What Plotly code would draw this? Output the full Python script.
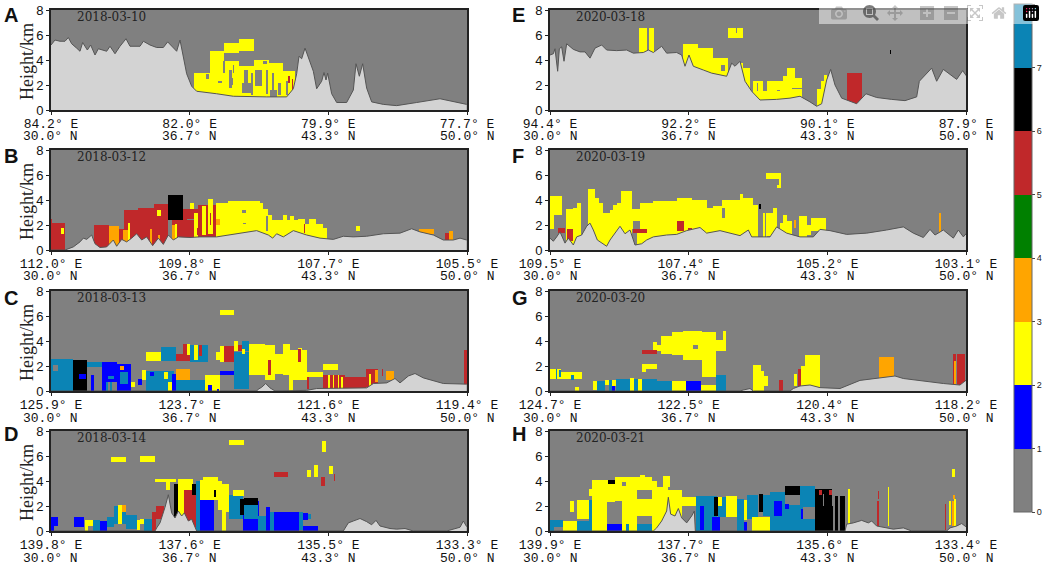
"""Vertical aerosol-type curtains along eight satellite tracks."""
import numpy as np
import plotly.graph_objects as go
from plotly.subplots import make_subplots

# class codes: 0 clear, 1 blue, 2 yellow, 3 orange, 4 green, 5 red, 6 black, 7 teal
CLASS_COLORS = ['#808080', '#0000ff', '#ffff00', '#ffa500',
                '#008000', '#c0282a', '#000000', '#0b84b5']
PANEL_LETTERS = ['A', 'B', 'C', 'D', 'E', 'F', 'G', 'H']
PANEL_DATES = ['2018-03-10', '2018-03-12', '2018-03-13', '2018-03-14',
               '2020-03-18', '2020-03-19', '2020-03-20', '2020-03-21']
LATS = ['30.0° N', '36.7° N', '43.3° N', '50.0° N']
LONS = [
    ['84.2° E', '82.0° E', '79.9° E', '77.7° E'],
    ['112.0° E', '109.8° E', '107.7° E', '105.5° E'],
    ['125.9° E', '123.7° E', '121.6° E', '119.4° E'],
    ['139.8° E', '137.6° E', '135.5° E', '133.3° E'],
    ['94.4° E', '92.2° E', '90.1° E', '87.9° E'],
    ['109.5° E', '107.4° E', '105.2° E', '103.1° E'],
    ['124.7° E', '122.5° E', '120.4° E', '118.2° E'],
    ['139.9° E', '137.7° E', '135.6° E', '133.4° E'],
]
TRACK_LEN = 1248
TRACK_TICKS = [0, 416, 832, 1248]

# terrain: along-track profile, height in km
terrain_a_x = [0, 12, 27, 42, 52, 62, 77, 87, 95, 109, 119, 132, 142, 167, 177, 192, 207, 225, 237, 267, 277, 297,
               317, 337, 350, 367, 377, 387, 395, 407, 422, 437, 497, 547, 647, 707, 727, 737, 744, 752, 762, 772,
               787, 797, 812, 819, 825, 830, 842, 857, 887, 907, 915, 925, 935, 947, 962, 997, 1037, 1097, 1167, 1247]
terrain_a_h = [5.2, 5.6, 5.5, 5.5, 5.8, 5.3, 4.95, 4.7, 5.4, 4.8, 5.2, 4.4, 4.9, 4.7, 5.1, 4.5, 5.1, 5.7, 5.1, 5.1,
               5.5, 5.2, 5.0, 5.0, 5.45, 4.95, 4.7, 5.6, 4.6, 2.9, 1.9, 1.5, 1.3, 1.1, 1.05, 1.05, 1.7, 2.9, 4.3,
               4.1, 4.95, 4.15, 3.1, 1.7, 2.3, 3.0, 2.4, 2.95, 1.3, 0.6, 0.6, 1.6, 3.7, 2.7, 3.7, 1.75, 0.65, 0.45,
               0.35, 0.6, 0.9, 0.45]
terrain_b_x = [0, 42, 67, 87, 97, 107, 122, 132, 147, 167, 187, 197, 212, 227, 242, 257, 272, 287, 305, 322, 337,
               352, 367, 382, 417, 447, 497, 547, 617, 652, 665, 677, 697, 727, 767, 807, 847, 877, 907, 947, 997,
               1047, 1082, 1107, 1147, 1177, 1207, 1227, 1247]
terrain_b_h = [0, 0, 0.25, 0.65, 0.95, 0.85, 1.2, 0.5, 0.2, 0.25, 0.8, 0.3, 0.85, 0.65, 0.95, 1.3, 0.8, 1.05, 0.35,
               0.95, 0.45, 1.2, 0.8, 1.05, 1.0, 1.05, 1.05, 1.25, 1.55, 1.2, 0.95, 1.3, 1.05, 1.55, 1.2, 0.95, 0.85,
               1.1, 1.05, 1.1, 1.3, 1.35, 1.7, 1.45, 1.2, 0.8, 0.8, 0.95, 0.8]
terrain_c_x = [0, 617, 622, 632, 644, 657, 672, 727, 767, 797, 847, 897, 947, 967, 1007, 1032, 1047, 1072, 1092,
               1117, 1147, 1177, 1247]
terrain_c_h = [0, 0, 0.15, 0.3, 0.6, 0.25, 0, 0, 0.05, 0.2, 0.2, 0.2, 0.25, 0.6, 0.65, 1.0, 0.65, 1.2, 1.4, 1.05,
               0.8, 0.6, 0.55]
terrain_d_x = [0, 312, 317, 327, 342, 352, 362, 372, 382, 392, 400, 412, 422, 437, 877, 892, 907, 927, 947, 962,
               975, 987, 1017, 1037, 1062, 1087, 1187, 1212, 1227, 1237, 1247]
terrain_d_h = [0, 0, 0.25, 0.65, 1.9, 2.9, 1.45, 1.05, 1.6, 1.2, 1.45, 0.8, 0.95, 0, 0, 0.65, 0.8, 1.0, 0.75, 0.5,
               0.85, 0.4, 0.2, 0.15, 0.2, 0, 0, 0.15, 0.3, 0.8, 0.35]
terrain_e_x = [0, 10, 15, 23, 28, 35, 42, 50, 70, 90, 105, 120, 135, 155, 170, 200, 230, 250, 280, 295, 310, 335,
               350, 380, 395, 405, 417, 430, 460, 485, 530, 545, 555, 570, 585, 605, 630, 680, 720, 750, 780, 800,
               815, 830, 842, 855, 875, 920, 948, 980, 1025, 1065, 1100, 1108, 1145, 1160, 1180, 1220, 1238, 1250]
terrain_e_h = [4.4, 4.5, 4.9, 3.1, 4.9, 5.05, 3.9, 5.3, 4.85, 4.65, 4.65, 4.15, 4.95, 5.2, 4.8, 4.75, 4.8, 4.55,
               4.6, 4.8, 4.6, 5.1, 4.55, 4.6, 4.4, 3.5, 4.4, 3.5, 3.2, 2.95, 2.7, 3.75, 3.5, 3.9, 2.3, 1.5, 0.8,
               0.85, 0.95, 1.1, 0.65, 0.3, 0.5, 2.4, 3.25, 2.0, 0.95, 0.5, 1.3, 1.0, 0.85, 0.75, 1.05, 2.3, 3.35,
               2.3, 3.25, 2.45, 3.15, 2.7]
terrain_f_x = [0, 10, 20, 30, 45, 55, 70, 80, 95, 110, 120, 130, 142, 155, 170, 180, 200, 210, 225, 240, 255, 275,
               290, 310, 350, 380, 410, 450, 470, 510, 570, 595, 605, 660, 680, 710, 750, 790, 810, 840, 890, 950,
               1010, 1060, 1090, 1120, 1140, 1155, 1180, 1210, 1225, 1240, 1250]
terrain_f_h = [0.95, 0.7, 1.05, 1.45, 0.55, 0.95, 0.4, 1.05, 1.2, 1.9, 2.15, 1.6, 0.8, 0.55, 0.3, 0.8, 1.6, 1.9,
               1.3, 1.6, 0.4, 0.5, 0.8, 1.05, 1.2, 1.25, 1.55, 1.8, 1.35, 1.55, 1.15, 1.6, 1.05, 1.05, 1.85, 1.35,
               1.05, 1.05, 1.65, 1.55, 1.25, 1.35, 1.6, 1.85, 1.35, 1.0, 1.65, 1.2, 1.6, 0.95, 1.6, 1.05, 1.35]
terrain_g_x = [0, 570, 580, 600, 610, 720, 730, 750, 780, 810, 870, 900, 930, 960, 990, 1035, 1060, 1130, 1180,
               1230, 1250]
terrain_g_h = [0, 0, 0.08, 0.2, 0, 0, 0.2, 0.4, 0.48, 0.27, 0.2, 0.55, 0.85, 0.95, 1.07, 1.2, 1.0, 0.75, 0.6, 0.48,
               0.9]
terrain_h_x = [0, 310, 320, 335, 350, 355, 362, 375, 385, 395, 410, 425, 433, 436, 885, 890, 910, 935, 955, 965,
               980, 1010, 1030, 1060, 1085, 1190, 1200, 1220, 1235, 1250]
terrain_h_h = [0, 0, 0.25, 0.8, 1.6, 2.7, 1.35, 1.2, 1.8, 1.05, 0.65, 1.2, 1.6, 0, 0, 0.55, 0.65, 0.85, 0.65, 0.8,
               0.4, 0.25, 0.15, 0.25, 0, 0, 0.25, 0.4, 0.6, 0.3]

# cloud and aerosol layers: first profile, last profile, base km, top km, class (later rows overwrite)
layers_a = [
    (430, 477, 0, 3.0, 2), (477, 520, 0, 4.7, 2), (520, 565, 0, 3.9, 2), (520, 565, 4.6, 5.4, 2),
    (565, 610, 4.7, 5.7, 2), (565, 610, 0, 3.5, 2), (610, 655, 0, 4.0, 2), (655, 697, 0, 3.8, 2),
    (697, 732, 0, 3.1, 2),
    (466, 474, 2.5, 2.9, 0), (500, 512, 2.2, 2.3, 0), (515, 522, 3.0, 3.9, 0), (533, 543, 1.8, 3.2, 0),
    (545, 550, 3.0, 3.6, 0), (572, 605, 1.4, 2.2, 0), (580, 590, 2.2, 3.2, 0), (612, 632, 1.9, 3.2, 0),
    (636, 647, 3.65, 3.95, 0), (658, 677, 0.9, 1.6, 0), (664, 670, 1.6, 3.0, 0), (682, 690, 1.2, 2.2, 0),
    (540, 546, 2.0, 2.6, 0), (600, 606, 1.2, 3.0, 0), (645, 650, 1.3, 3.2, 0), (705, 711, 1.2, 2.3, 0),
    (712, 716, 2.2, 2.7, 5), (722, 726, 1.6, 2.5, 5),
]
layers_b = [
    (0, 41, 0, 2.2, 5), (0, 4, 2.2, 2.5, 5), (30, 40, 1.3, 1.8, 2), (130, 175, 0, 2.0, 5), (175, 205, 0, 1.9, 3),
    (205, 219, 0, 1.7, 5), (219, 262, 0, 3.2, 5), (262, 309, 0, 3.35, 5), (309, 352, 0, 3.65, 5),
    (215, 230, 0, 1.6, 3), (230, 236, 0, 2.2, 2), (318, 330, 2.75, 3.2, 2), (297, 303, 0, 1.7, 3), (322, 328, 0, 1.2, 3),
    (352, 362, 0, 2.4, 0), (352, 395, 2.4, 4.4, 6), (362, 395, 0, 2.4, 5), (395, 442, 0, 3.25, 5),
    (442, 495, 0, 3.6, 5), (362, 372, 0, 2.0, 3), (372, 378, 0, 2.1, 2), (429, 442, 0, 3.0, 2), (452, 464, 1.2, 3.5, 2),
    (417, 429, 3.25, 3.75, 2), (472, 485, 1.3, 4.05, 2), (495, 507, 2.0, 2.5, 3), (407, 429, 2.4, 2.5, 0),
    (437, 441, 1.2, 1.8, 5), (477, 481, 2.0, 3.0, 5),
    (495, 532, 0, 3.75, 2), (495, 507, 2.0, 2.5, 3), (532, 627, 0, 3.9, 2), (627, 637, 0, 3.75, 2), (637, 652, 0, 3.3, 2),
    (652, 662, 0, 2.8, 2), (662, 697, 0, 2.4, 2), (697, 707, 0, 2.8, 2), (707, 717, 0, 2.4, 2),
    (717, 729, 0, 2.75, 2), (729, 740, 0, 2.4, 2), (740, 762, 0, 2.5, 2), (762, 775, 0, 2.1, 2),
    (775, 795, 0, 2.45, 2), (795, 817, 0, 2.1, 2), (817, 829, 0, 1.75, 2),
    (572, 585, 3.0, 3.2, 0), (575, 585, 2.1, 2.15, 0), (645, 650, 1.5, 2.7, 0), (760, 763, 1.4, 2.1, 5),
    (916, 928, 1.5, 1.9, 2), (1103, 1150, 1.3, 1.7, 3), (1183, 1195, 0.8, 1.4, 5), (1195, 1205, 0.8, 1.5, 3),
]
layers_c = [
    (0, 65, 0, 2.6, 7), (5, 20, 1.6, 2.1, 0), (65, 107, 0, 2.5, 6), (85, 105, 1.0, 1.4, 1), (107, 152, 1.9, 2.3, 7),
    (120, 130, 0, 1.3, 1), (152, 197, 0, 2.35, 1), (197, 240, 0, 2.15, 1), (208, 220, 1.7, 2.0, 3),
    (208, 232, 0.6, 1.5, 7), (168, 197, 0, 0.7, 0), (165, 170, 0, 0.7, 7), (178, 182, 0, 0.7, 7),
    (170, 190, 1.0, 1.2, 7), (240, 252, 0.3, 0.75, 2), (262, 273, 0.5, 1.0, 1), (273, 285, 0.9, 1.7, 2),
    (285, 370, 0, 1.6, 7), (297, 308, 1.2, 1.55, 1), (340, 352, 1.0, 1.5, 2), (352, 364, 0, 0.7, 2),
    (364, 375, 0, 1.4, 1), (285, 330, 2.4, 3.1, 2), (330, 375, 2.4, 3.5, 7), (375, 417, 2.4, 3.0, 5),
    (397, 407, 3.0, 3.8, 5), (407, 417, 2.9, 3.8, 2), (417, 472, 2.3, 3.7, 7), (430, 440, 2.5, 3.7, 2),
    (443, 452, 2.8, 3.7, 5), (375, 417, 0.9, 1.8, 3), (375, 462, 0, 0.9, 7), (462, 507, 0, 1.3, 2),
    (472, 482, 0, 0.5, 1), (497, 503, 0, 0.2, 1), (507, 550, 6.1, 6.5, 2), (495, 507, 2.5, 3.1, 2),
    (507, 520, 2.3, 3.6, 2), (520, 550, 2.3, 3.6, 5), (550, 562, 3.2, 4.0, 2), (562, 572, 3.2, 3.7, 5),
    (572, 595, 3.2, 4.0, 7), (550, 595, 0.2, 3.1, 7), (572, 582, 3.0, 3.4, 2), (507, 550, 1.3, 1.6, 1),
    (595, 642, 1.25, 3.75, 2), (642, 672, 0.9, 3.65, 2), (650, 660, 1.3, 2.5, 5), (672, 697, 1.4, 3.0, 2),
    (697, 717, 1.3, 3.75, 2), (715, 727, 0, 3.3, 2), (727, 740, 0.9, 3.3, 2), (740, 752, 0.9, 3.45, 2),
    (740, 750, 2.3, 3.4, 5), (752, 767, 0.9, 3.3, 2), (767, 817, 1.1, 1.5, 2), (767, 775, 0.2, 1.1, 5),
    (817, 860, 1.7, 2.2, 2), (817, 882, 0.2, 1.3, 5), (832, 838, 0.2, 1.3, 2), (845, 850, 0.2, 1.3, 2),
    (860, 865, 0.2, 1.3, 2), (870, 876, 0.2, 1.1, 2), (882, 945, 0.2, 1.1, 5), (945, 980, 0.3, 1.8, 5),
    (955, 960, 0.4, 1.4, 2), (972, 982, 0.7, 1.7, 3), (992, 997, 1.2, 1.8, 5), (1005, 1028, 0.9, 1.6, 3),
    (1240, 1247, 0.5, 3.3, 5),
]
layers_d = [
    (0, 22, 0.4, 1.1, 1), (0, 8, 0, 0.4, 1), (68, 100, 0.3, 1.1, 1), (102, 125, 0.4, 0.85, 2), (102, 112, 0, 0.4, 2),
    (125, 147, 0, 0.9, 7), (147, 168, 0, 0.8, 1), (168, 190, 0.3, 1.1, 7), (190, 225, 0.6, 2.0, 7),
    (200, 212, 0.6, 2.1, 2), (212, 225, 1.5, 2.1, 3), (225, 257, 0.2, 1.3, 7), (257, 268, 0.1, 0.85, 2),
    (268, 280, 0.6, 1.0, 2), (280, 302, 0, 1.0, 7), (302, 315, 0, 1.5, 5), (315, 340, 1.0, 2.0, 5),
    (180, 225, 5.5, 5.9, 2), (268, 312, 5.5, 6.0, 2), (535, 580, 6.9, 7.3, 2), (668, 710, 4.3, 4.7, 5),
    (768, 780, 4.3, 4.9, 2), (790, 800, 4.3, 5.3, 2), (810, 822, 3.6, 4.3, 5), (812, 824, 6.3, 7.2, 2),
    (833, 845, 4.6, 5.2, 2), (848, 852, 4.0, 4.6, 5), (312, 375, 3.9, 4.2, 2), (345, 357, 3.3, 3.9, 2),
    (380, 425, 1.0, 4.15, 2), (400, 435, 0, 3.3, 5), (370, 380, 1.0, 3.8, 6), (424, 434, 2.9, 3.8, 6),
    (435, 447, 0, 4.0, 7), (447, 457, 2.5, 4.1, 2), (447, 490, 0, 2.5, 1), (457, 500, 2.5, 4.3, 2),
    (470, 472, 2.8, 3.5, 5), (488, 495, 2.7, 3.3, 6), (500, 512, 1.7, 4.0, 2), (512, 525, 0, 3.8, 2),
    (525, 535, 1.5, 3.8, 2), (535, 575, 1.0, 2.9, 7), (545, 580, 2.8, 3.3, 2), (575, 625, 0, 2.4, 1),
    (580, 620, 1.0, 2.6, 7), (567, 578, 1.3, 2.6, 6), (580, 622, 2.1, 2.65, 6), (622, 645, 0, 1.2, 7),
    (645, 657, 0, 1.9, 1), (657, 668, 0, 1.5, 7), (668, 745, 0, 1.5, 1), (745, 757, 0.1, 1.5, 7),
    (757, 770, 0.9, 1.45, 1), (770, 780, 1.0, 1.4, 7), (757, 800, 0, 0.4, 1),
]
layers_e = [
    (266, 290, 4.6, 6.6, 2), (298, 312, 4.6, 6.6, 2), (285, 292, 4.6, 5.5, 2), (533, 579, 5.8, 6.6, 2),
    (559, 562, 6.2, 6.6, 0), (400, 445, 0, 5.3, 2), (445, 490, 0, 5.0, 2), (490, 533, 0, 4.2, 2),
    (513, 524, 3.1, 3.6, 0), (570, 578, 0, 3.8, 2), (578, 600, 0, 3.4, 2), (610, 700, 0, 2.35, 2),
    (620, 625, 1.5, 2.2, 0), (640, 650, 1.5, 2.3, 0), (680, 690, 1.5, 1.6, 0), (700, 712, 0, 2.7, 2),
    (712, 735, 0, 3.4, 2), (735, 757, 0, 2.6, 2), (725, 757, 1.7, 1.8, 0), (800, 812, 0, 1.7, 2),
    (812, 822, 0, 2.3, 2), (822, 832, 0, 2.8, 2), (890, 935, 0, 3.0, 5), (1020, 1024, 4.5, 4.8, 6),
]
layers_f = [
    (0, 12, 1.7, 4.3, 2), (12, 35, 2.8, 4.3, 2), (47, 68, 0, 3.3, 2), (68, 82, 0, 3.4, 2), (82, 93, 0, 3.8, 2),
    (25, 45, 1.4, 1.8, 5), (50, 68, 0.7, 1.7, 5), (113, 135, 0, 4.9, 2), (135, 147, 0, 4.2, 2), (147, 158, 0, 3.8, 2),
    (158, 180, 0, 3.0, 2), (180, 190, 0, 3.2, 2), (190, 200, 0, 3.6, 2), (200, 212, 0, 3.8, 2), (212, 247, 0, 4.7, 2),
    (247, 270, 1.7, 3.3, 2), (248, 270, 1.6, 2.3, 0), (248, 290, 1.4, 1.7, 5), (270, 310, 1.7, 3.75, 2),
    (290, 310, 0, 3.75, 2), (260, 290, 0, 1.4, 2), (310, 380, 0, 3.95, 2), (380, 425, 0, 4.15, 2), (425, 470, 0, 4.0, 2),
    (470, 490, 0, 3.4, 2), (490, 515, 0, 3.55, 2), (515, 570, 0, 4.0, 2), (570, 580, 0, 4.5, 2), (580, 610, 0, 4.2, 2),
    (610, 625, 0, 3.6, 2), (515, 525, 2.6, 3.4, 0), (382, 402, 1.5, 2.3, 5), (415, 425, 1.6, 1.75, 5),
    (627, 632, 3.3, 3.7, 6), (640, 645, 1.0, 3.0, 2), (648, 650, 1.0, 3.0, 2), (650, 670, 1.1, 3.0, 2),
    (670, 682, 1.1, 3.35, 2), (690, 700, 1.5, 2.2, 2), (700, 712, 1.3, 2.8, 2), (712, 727, 1.3, 2.3, 2),
    (733, 738, 1.8, 2.4, 3), (748, 770, 1.0, 2.7, 2), (770, 782, 1.2, 2.0, 2), (782, 827, 1.5, 2.6, 2),
    (648, 692, 5.7, 6.2, 2), (688, 692, 5.0, 5.7, 2), (680, 688, 5.0, 5.2, 2), (1168, 1172, 1.2, 3.0, 3),
]
layers_g = [
    (0, 32, 1.0, 1.8, 2), (17, 22, 1.0, 1.8, 7), (27, 32, 1.1, 1.7, 7), (32, 95, 1.0, 1.5, 2), (62, 72, 0.9, 1.3, 7),
    (75, 87, 0, 0.3, 2), (130, 142, 0.1, 0.8, 2), (142, 165, 0, 0.8, 7), (165, 177, 0.5, 0.9, 2), (177, 187, 0, 0.9, 7),
    (187, 198, 0.4, 0.9, 2), (187, 195, 0, 0.4, 1), (198, 240, 0, 1.0, 7), (240, 252, 0, 1.05, 2), (252, 265, 0, 1.0, 7),
    (265, 277, 0, 1.0, 2), (277, 320, 0, 0.95, 7), (320, 365, 0, 0.8, 7), (365, 408, 0, 0.8, 2), (408, 453, 0, 0.8, 1),
    (453, 497, 0, 0.5, 2), (497, 527, 0, 1.3, 7), (275, 320, 3.0, 3.3, 5), (275, 320, 1.8, 2.2, 2), (275, 288, 1.5, 1.8, 2),
    (310, 322, 3.3, 3.9, 2), (320, 332, 3.2, 3.7, 2), (332, 365, 3.0, 4.4, 2), (365, 400, 2.9, 4.7, 2),
    (398, 455, 2.5, 4.8, 2), (455, 497, 1.1, 4.7, 2), (497, 520, 3.2, 4.1, 2), (520, 528, 3.2, 4.8, 2),
    (430, 445, 3.4, 3.7, 0), (610, 632, 0, 2.1, 2), (632, 642, 0, 1.6, 2), (642, 655, 0.4, 1.2, 2), (688, 698, 0, 0.9, 5),
    (732, 742, 0.4, 1.4, 2), (743, 753, 0.4, 1.8, 5), (753, 765, 0.4, 2.0, 2), (765, 810, 0.3, 2.9, 2),
    (987, 1032, 1.0, 2.7, 3), (1210, 1217, 0.5, 3.0, 5), (1212, 1217, 0.6, 2.4, 3), (1222, 1245, 0.5, 3.0, 5),
]
layers_h = [
    (0, 38, 0, 0.9, 7), (13, 38, 0, 0.3, 0), (38, 82, 0, 0.8, 2), (82, 125, 0, 0.8, 7), (82, 117, 1.0, 2.5, 2),
    (117, 127, 0.8, 2.5, 7), (60, 72, 1.5, 2.4, 2), (117, 127, 2.8, 3.4, 2), (127, 172, 0, 4.1, 2), (172, 215, 0, 0.55, 1),
    (172, 195, 2.3, 4.1, 2), (175, 195, 3.8, 4.1, 6), (195, 215, 2.4, 4.3, 2), (215, 260, 0, 4.3, 2), (227, 238, 0, 0.6, 7),
    (217, 228, 3.6, 3.9, 0), (260, 305, 3.3, 4.3, 2), (260, 305, 1.2, 2.6, 2), (260, 305, 0.6, 1.2, 0), (260, 305, 0, 0.6, 7),
    (305, 320, 0, 3.8, 2), (320, 355, 0, 3.5, 2), (340, 360, 3.5, 4.4, 2), (270, 285, 3.3, 4.45, 2), (285, 320, 3.3, 4.0, 2),
    (355, 395, 0, 3.3, 2), (395, 438, 2.0, 2.7, 2), (438, 500, 0, 2.8, 7), (450, 462, 0.1, 2.0, 1), (487, 510, 0, 1.1, 1),
    (493, 505, 1.2, 2.7, 6), (505, 530, 1.1, 2.7, 7), (505, 515, 2.0, 2.7, 2), (527, 560, 1.1, 2.8, 2), (560, 582, 0, 2.6, 7),
    (582, 592, 0.9, 2.5, 2), (582, 592, 0, 0.7, 1), (592, 625, 1.0, 2.9, 7), (605, 660, 0, 1.1, 2), (628, 638, 1.5, 3.0, 6),
    (638, 660, 1.2, 2.9, 7), (660, 705, 0, 3.1, 7), (705, 750, 2.9, 3.6, 6), (705, 750, 0, 2.1, 7), (750, 795, 0, 3.6, 7),
    (760, 795, 1.0, 1.9, 0), (752, 760, 1.0, 1.8, 1), (672, 695, 1.2, 2.4, 1), (705, 717, 1.8, 2.2, 1), (795, 845, 0, 3.4, 6),
    (807, 817, 2.9, 3.3, 5), (838, 845, 2.9, 3.3, 5), (818, 822, 2.0, 3.0, 0), (845, 850, 0, 2.0, 6), (855, 885, 0, 2.8, 6),
    (865, 870, 0, 2.8, 0), (895, 900, 0.6, 3.4, 2), (982, 986, 0.4, 2.4, 5), (985, 987, 2.6, 3.2, 5), (1014, 1016, 0.4, 3.5, 2),
    (1186, 1188, 0.1, 2.2, 5), (1198, 1203, 0.5, 2.4, 2), (1205, 1213, 0.4, 2.4, 3), (1213, 1217, 0.4, 2.6, 2),
    (1205, 1216, 4.3, 5.0, 2), (1208, 1214, 2.6, 2.9, 3),
]

terrain_x = [terrain_a_x, terrain_b_x, terrain_c_x, terrain_d_x, terrain_e_x, terrain_f_x, terrain_g_x, terrain_h_x]
terrain_h = [terrain_a_h, terrain_b_h, terrain_c_h, terrain_d_h, terrain_e_h, terrain_f_h, terrain_g_h, terrain_h_h]
layers = [layers_a, layers_b, layers_c, layers_d, layers_e, layers_f, layers_g, layers_h]

W, H = 1045, 566
ROW_TOPS = [10, 150, 291, 431]
ROW_H = 100
COL_LEFTS = [51, 550]
COL_W = 416
LETTER_Y = [15, 156, 298, 434]
LETTER_X = [2, 510]
DX, DY = 3, 0.05


def px(x):
    return x / W


def py(y):
    return 1 - y / H


def rasterize(rows):
    z = np.zeros((int(8 / DY), int(TRACK_LEN / DX)))
    for x0, x1, h0, h1, cls in rows:
        z[round(h0 / DY):round(h1 / DY), round(x0 / DX):round(x1 / DX)] = cls
    return z + 0.5


def label(fig, x, y, text, family, size, color='#111111', xanchor='center', angle=0):
    fig.add_annotation(x=px(x), y=py(y), xref='paper', yref='paper', text=text, showarrow=False,
                       xanchor=xanchor, yanchor='middle', textangle=angle,
                       font=dict(family=family, size=size, color=color))


colorscale = []
for i, c in enumerate(CLASS_COLORS):
    colorscale += [[i / 8, c], [(i + 1) / 8, c]]

fig = make_subplots(rows=4, cols=2)
for p in range(8):
    col, row = p // 4, p % 4
    fig.add_trace(go.Heatmap(z=rasterize(layers[p]), x0=DX / 2, dx=DX, y0=DY / 2, dy=DY,
                             coloraxis='coloraxis', zsmooth=False, hoverinfo='skip'),
                  row=row + 1, col=col + 1)
    fig.add_trace(go.Scatter(x=terrain_x[p], y=terrain_h[p], mode='lines', fill='tozeroy',
                             fillcolor='#d3d3d3', line=dict(color='#555555', width=1),
                             showlegend=False, hoverinfo='skip'),
                  row=row + 1, col=col + 1)
    left, top = COL_LEFTS[col], ROW_TOPS[row]
    fig.update_xaxes(
        domain=[px(left), px(left + COL_W)], range=[0, TRACK_LEN], automargin=False,
        tickvals=TRACK_TICKS, ticktext=LONS[p], ticks='outside', ticklen=3, tickwidth=1,
        tickcolor='#222222', tickangle=0, showgrid=False, zeroline=False, ticklabelstandoff=-3,
        showline=True, linecolor='#222222', linewidth=2, mirror=True,
        tickfont=dict(family='Liberation Mono', size=13, color='#111111'),
        row=row + 1, col=col + 1)
    fig.update_yaxes(
        domain=[py(top + ROW_H), py(top)], range=[0, 8], automargin=False,
        tickvals=[0, 2, 4, 6, 8], ticks='outside', ticklen=3, tickwidth=1, tickcolor='#222222',
        showgrid=False, zeroline=False, showline=True, linecolor='#222222', linewidth=2, mirror=True,
        tickfont=dict(family='Liberation Sans', size=13, color='#111111'),
        row=row + 1, col=col + 1)
    if col == 0:
        label(fig, 27, top + 52, 'Height/km', 'Liberation Serif', 18, '#222222', angle=-90)
    # latitude line under the longitude tick labels
    for tick, lat in zip(TRACK_TICKS, LATS):
        label(fig, left + COL_W * tick / TRACK_LEN, top + ROW_H + 27, lat, 'Liberation Mono', 13)
    label(fig, left + 24, top + 7, PANEL_DATES[p], 'DejaVu Serif', 12, '#222222', xanchor='left')
    label(fig, LETTER_X[col], LETTER_Y[row], '<b>%s</b>' % PANEL_LETTERS[p], 'Liberation Sans', 20,
          xanchor='left')

fig.update_layout(
    width=W, height=H, margin=dict(l=0, r=0, t=0, b=0, autoexpand=False), autosize=False,
    paper_bgcolor='white', plot_bgcolor='#808080', showlegend=False,
    coloraxis=dict(
        colorscale=colorscale, cmin=0, cmax=8,
        colorbar=dict(
            x=px(1014), xanchor='left', xpad=0, y=py(4), yanchor='top', ypad=0,
            lenmode='pixels', len=508, thicknessmode='pixels', thickness=18,
            outlinecolor='#666666', outlinewidth=1, tickvals=list(range(9)),
            ticks='outside', ticklen=3, tickcolor='#444444',
            tickfont=dict(family='Liberation Sans', size=9, color='#222222'),
        ),
    ),
)
# drop the page's default body margin so the figure fills the window exactly
fig.write_html("out.html", post_script="document.body.style.margin='0';")
